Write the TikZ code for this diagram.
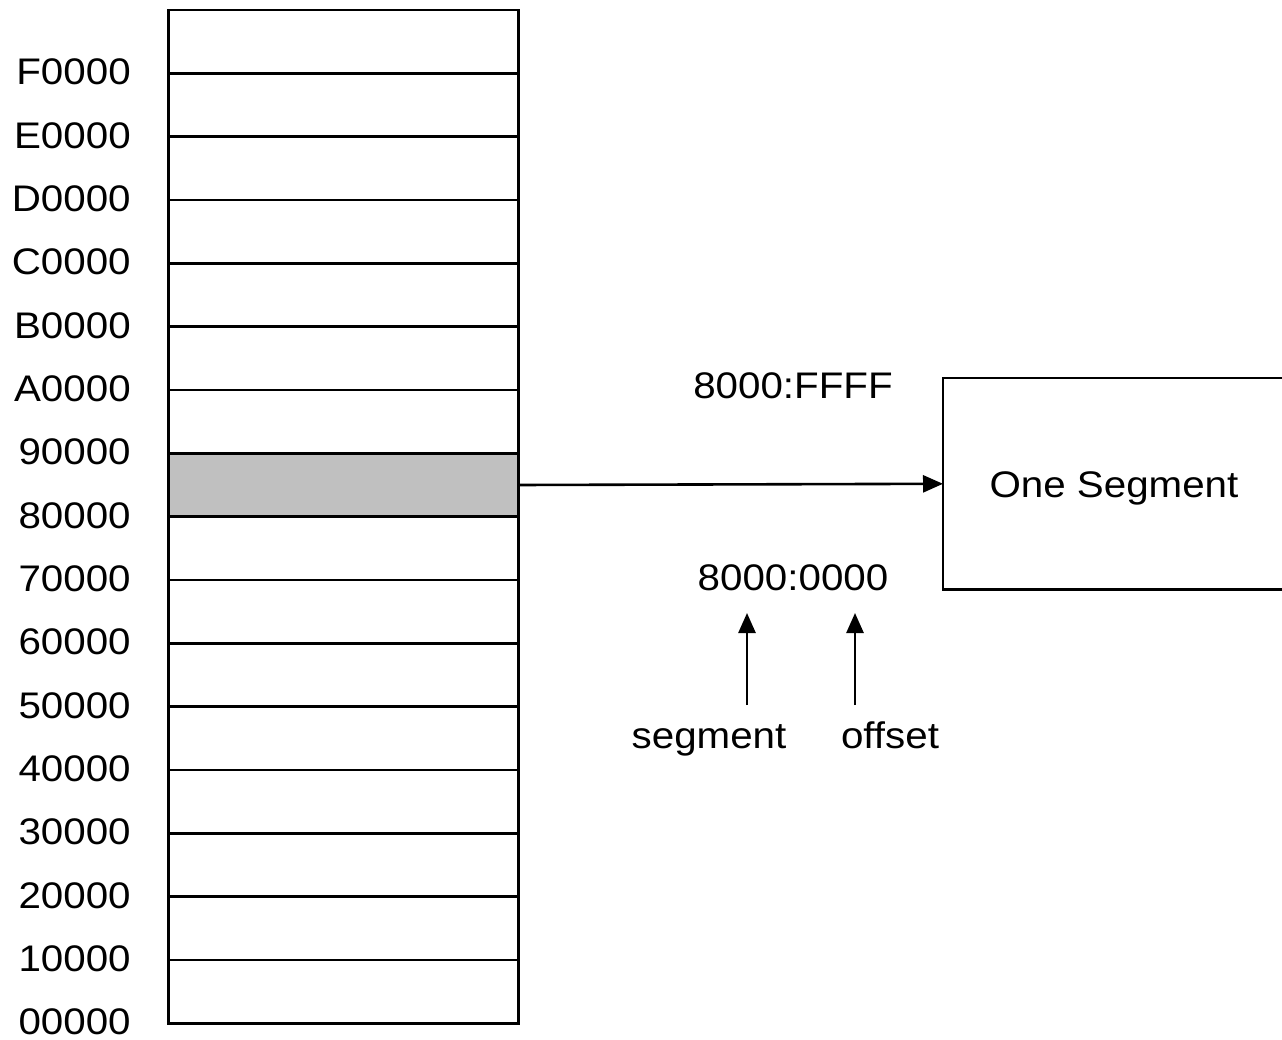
\documentclass[tikz,border=0pt]{standalone}
\usepackage{fontspec}
\setmainfont[FakeStretch=1.09]{Liberation Sans}
\usetikzlibrary{arrows.meta}
\begin{document}
\begin{tikzpicture}[x=1pt,y=-1pt,
  line width=2.6pt,
  lbl/.style={font=\fontsize{37}{40}\selectfont, inner sep=0pt},
  cell/.style={draw, minimum width=350pt, minimum height=63.33pt, inner sep=0pt, anchor=north west, line width=2.6pt},
  conn/.style={-{Triangle[length=20pt,width=17pt]}, line width=2.6pt}]
\useasboundingbox (0,0) rectangle (1282,1040);
% memory column cells (row k from bottom)
\foreach \k in {0,...,15}{
  \pgfmathsetmacro{\ytop}{1022-63.33*(\k+1)}
  \ifnum\k=8
    \node[cell, fill={rgb,255:red,192;green,192;blue,192}] (c\k) at (167,\ytop) {};
  \else
    \node[cell] (c\k) at (167,\ytop) {};
  \fi
}
% address labels
\foreach \k/\t in {0/00000,1/10000,2/20000,3/30000,4/40000,5/50000,6/60000,7/70000,8/80000,9/90000,10/A0000,11/B0000,12/C0000,13/D0000,14/E0000,15/F0000}{
  \node[lbl, anchor=east] (l\k) at (132,{1022-63.33*\k}) {\t};
}
% segment box (right edge beyond picture)
\node[lbl, minimum width=339pt, minimum height=209pt, anchor=north west] (box) at (943,378) {};
\draw (box.north east) -- (box.north west) -- (box.south west) -- (box.south east);
\node[lbl, anchor=base] (bt) at (1114,497) {One Segment};
\draw[conn] (c8.east) -- (box.west);
% addresses
\node[lbl] (hi) at (793,386) {8000:FFFF};
\node[lbl] (lo) at (793,578) {8000:0000};
\node[lbl, anchor=base] (sg) at (709,748) {segment};
\node[lbl, anchor=base] (of) at (890,748) {offset};
\coordinate (sgt) at (747,705);
\coordinate (sgh) at (747,613);
\coordinate (oft) at (855,705);
\coordinate (ofh) at (855,613);
\draw[conn] (sgt) -- (sgh);
\draw[conn] (oft) -- (ofh);
\end{tikzpicture}
\end{document}
